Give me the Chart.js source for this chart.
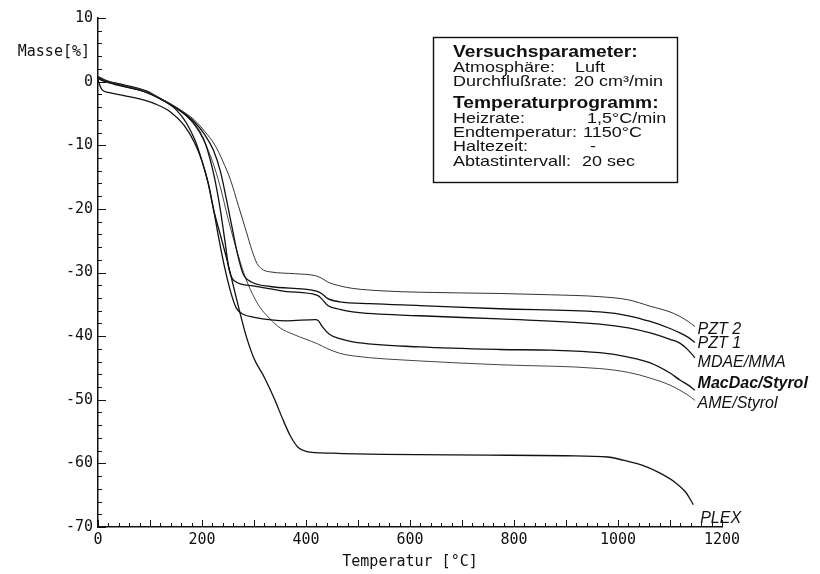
<!DOCTYPE html>
<html>
<head>
<meta charset="utf-8">
<script src="https://cdn.jsdelivr.net/npm/chart.js@4.4.0/dist/chart.umd.min.js"></script>
<style>
html, body { margin: 0; padding: 0; background: #fff; }
</style>
</head>
<body>
<canvas id="tga" width="820" height="574"></canvas>
<script>
// Temperatur [°C] / Masse [%] Wertepaare
const pzt2 = [[0,0.8],[10,0.3],[40,-0.4],[87,-1.4],[120,-2.6],[158,-4.4],[185,-6],[205,-7.8],[225,-10],[240,-12.5],[255,-15.5],[270,-19.5],[285,-23.5],[296,-26.5],[306,-28.6],[318,-29.6],[331,-29.9],[380,-30.2],[418,-30.5],[430,-30.9],[442,-31.5],[465,-32.1],[490,-32.5],[550,-32.9],[619,-33.1],[773,-33.3],[870,-33.5],[965,-33.8],[1020,-34.3],[1062,-35.3],[1100,-36.2],[1119,-36.9],[1135,-37.7],[1148,-38.5]];
const pzt1 = [[0,0.6],[10,0.2],[40,-0.5],[87,-1.5],[120,-2.7],[158,-4.5],[185,-6.3],[205,-8.3],[222,-10.8],[235,-14],[247,-18.5],[258,-23],[268,-27],[279,-30.2],[295,-31.5],[331,-32.2],[418,-32.9],[430,-33.3],[442,-34.1],[465,-34.6],[523,-34.9],[619,-35.2],[773,-35.7],[965,-36.2],[1020,-36.8],[1062,-37.7],[1100,-38.8],[1119,-39.5],[1135,-40.2],[1148,-41]];
const mdae = [[0,0.5],[10,0.1],[40,-0.6],[87,-1.5],[120,-2.7],[158,-4.6],[185,-6.6],[203,-9],[215,-12],[225,-15.5],[235,-20],[244,-25],[252,-29.5],[262,-31.3],[298,-32.1],[363,-33],[422,-33.6],[432,-34.3],[442,-35.2],[465,-35.8],[490,-36.2],[619,-36.8],[773,-37.3],[965,-38.1],[1020,-38.7],[1062,-39.5],[1100,-40.5],[1119,-41.1],[1135,-42.2],[1148,-43.4]];
const macdac = [[0,0.8],[15,0.2],[50,-0.5],[94,-1.5],[120,-2.7],[150,-4.4],[170,-6.5],[188,-9.5],[200,-12.5],[212,-16],[222,-20],[232,-24.5],[243,-29],[255,-33],[266,-35.6],[280,-36.6],[298,-37],[363,-37.6],[418,-37.4],[424,-37.6],[432,-38.6],[445,-39.7],[465,-40.4],[490,-40.9],[619,-41.7],[773,-42.1],[870,-42.2],[965,-42.6],[1020,-43.3],[1062,-44.2],[1100,-45.8],[1119,-46.9],[1135,-47.7],[1148,-48.5]];
const ame = [[0,0.7],[10,0.2],[40,-0.5],[87,-1.5],[120,-2.7],[158,-4.6],[185,-6.8],[205,-9.5],[220,-12.5],[235,-16.5],[250,-21.5],[265,-26],[280,-30],[292,-32.5],[310,-35.3],[331,-37.3],[350,-38.7],[375,-39.7],[400,-40.5],[422,-41.2],[442,-42],[465,-42.7],[490,-43.1],[619,-43.9],[773,-44.5],[965,-45.1],[1020,-45.7],[1062,-46.6],[1100,-47.7],[1119,-48.5],[1135,-49.3],[1148,-50.1]];
const plex = [[0,0.3],[3,-0.5],[8,-1.3],[20,-1.7],[50,-2.2],[80,-2.7],[110,-3.5],[140,-4.8],[165,-6.8],[185,-9.5],[200,-12.5],[212,-16],[222,-20],[235,-24],[248,-28],[260,-32],[272,-36],[285,-40],[300,-43.5],[320,-46.5],[340,-50],[355,-53],[370,-55.7],[385,-57.5],[400,-58.1],[450,-58.4],[550,-58.6],[750,-58.7],[900,-58.8],[980,-59],[1010,-59.5],[1050,-60.4],[1080,-61.5],[1110,-63],[1130,-64.5],[1140,-65.8],[1145,-66.5]];

const seriesNames = ['PZT 2', 'PZT 1', 'MDAE/MMA', 'MacDac/Styrol', 'AME/Styrol', 'PLEX'];
// Lage der Kurvenbeschriftung in Datenkoordinaten
const labelAt = [[1153,-38.9],[1153,-41.2],[1153,-44.2],[1153,-47.4],[1153,-50.6],[1158,-68.7]];

// Text, Wert, fett, x des Wertes, Grundlinie
const infoLines = [
  ['Versuchsparameter:', '', true, 0, 57],
  ['Atmosphäre:', 'Luft', false, 575, 72],
  ['Durchflußrate:', '20 cm³/min', false, 574, 86],
  ['Temperaturprogramm:', '', true, 0, 108],
  ['Heizrate:', '1,5°C/min', false, 587, 123],
  ['Endtemperatur:', '1150°C', false, 583, 137],
  ['Haltezeit:', '-', false, 590, 151],
  ['Abtastintervall:', '20 sec', false, 582, 166]
];

const mono = 'DejaVu Sans Mono';
const sans = 'Liberation Sans';

function pts(arr) {
  return arr.map(function (p) { return { x: p[0], y: p[1] }; });
}

function wideText(ctx, txt, x, y, sx) {
  ctx.save();
  ctx.translate(x, y);
  ctx.scale(sx, 1);
  ctx.fillText(txt, 0, 0);
  ctx.restore();
}

const extras = {
  id: 'extras',
  afterDraw: function (chart) {
    const ctx = chart.ctx;
    const xs = chart.scales.x, ys = chart.scales.y;
    const y0 = ys.getPixelForValue(-70), x0 = xs.getPixelForValue(0);
    ctx.save();
    ctx.strokeStyle = '#111';
    ctx.lineWidth = 1;
    // Teilstriche unten
    for (let t = 0; t <= 1200; t += 20) {
      const px = Math.round(xs.getPixelForValue(t)) + 0.5;
      const len = (t % 100 === 0) ? 7 : 4;
      ctx.beginPath(); ctx.moveTo(px, y0); ctx.lineTo(px, y0 - len); ctx.stroke();
    }
    // Teilstriche links
    for (let v = -70; v <= 10; v += 2) {
      const py = Math.round(ys.getPixelForValue(v)) + 0.5;
      const len = (v % 10 === 0) ? 8 : 4;
      ctx.beginPath(); ctx.moveTo(x0, py); ctx.lineTo(x0 + len, py); ctx.stroke();
    }
    // y-Achsentitel
    ctx.fillStyle = '#111';
    ctx.font = '15px "' + mono + '"';
    ctx.textAlign = 'right';
    ctx.textBaseline = 'middle';
    ctx.fillText('Masse[%]', 90, 52);

    // Kurvennamen
    ctx.textAlign = 'left';
    seriesNames.forEach(function (name, i) {
      const px = xs.getPixelForValue(labelAt[i][0]);
      const py = ys.getPixelForValue(labelAt[i][1]);
      ctx.font = (name === 'MacDac/Styrol' ? 'italic bold ' : 'italic ') + '16px "' + sans + '"';
      ctx.fillText(name, px, py);
    });

    // Versuchsparameter-Kasten
    ctx.lineWidth = 1.4;
    ctx.strokeRect(433.5, 37.5, 244, 145);
    ctx.textBaseline = 'alphabetic';
    infoLines.forEach(function (l) {
      ctx.font = (l[2] ? 'bold 16px "' : '15px "') + sans + '"';
      wideText(ctx, l[0], 453, l[4], 1.2);
      if (l[1]) wideText(ctx, l[1], l[3], l[4], 1.2);
    });
    ctx.restore();
  }
};

new Chart(document.getElementById('tga'), {
  type: 'line',
  data: {
    datasets: [
      { label: 'PZT 2', data: pts(pzt2), borderColor: '#333', borderWidth: 1 },
      { label: 'PZT 1', data: pts(pzt1), borderColor: '#111', borderWidth: 1.3 },
      { label: 'MDAE/MMA', data: pts(mdae), borderColor: '#111', borderWidth: 1.3 },
      { label: 'MacDac/Styrol', data: pts(macdac), borderColor: '#111', borderWidth: 1.3 },
      { label: 'AME/Styrol', data: pts(ame), borderColor: '#444', borderWidth: 1 },
      { label: 'PLEX', data: pts(plex), borderColor: '#111', borderWidth: 1.3 }
    ]
  },
  options: {
    responsive: false,
    animation: false,
    devicePixelRatio: 1,
    layout: { padding: { top: 18, right: 98, left: 0, bottom: 0 } },
    elements: {
      point: { radius: 0 },
      line: { cubicInterpolationMode: 'monotone', fill: false }
    },
    plugins: { legend: { display: false }, tooltip: { enabled: false } },
    scales: {
      x: {
        type: 'linear', min: 0, max: 1200,
        ticks: {
          stepSize: 200, color: '#111', font: { family: mono, size: 15 }, padding: 4, maxRotation: 0,
          callback: function (v) { return String(v); }
        },
        grid: { display: false, drawTicks: false },
        border: { display: true, color: '#111', width: 1.5 },
        title: { display: true, text: 'Temperatur [°C]', color: '#111', font: { family: mono, size: 15 }, padding: { top: 2, bottom: 3 } },
        afterFit: function (s) { s.height = 47; }
      },
      y: {
        type: 'linear', min: -70, max: 10,
        ticks: { stepSize: 10, color: '#111', font: { family: mono, size: 15 }, padding: 5 },
        grid: { display: false, drawTicks: false },
        border: { display: true, color: '#111', width: 1.5 },
        afterFit: function (s) { s.width = 98; }
      }
    }
  },
  plugins: [extras]
});
</script>
</body>
</html>
